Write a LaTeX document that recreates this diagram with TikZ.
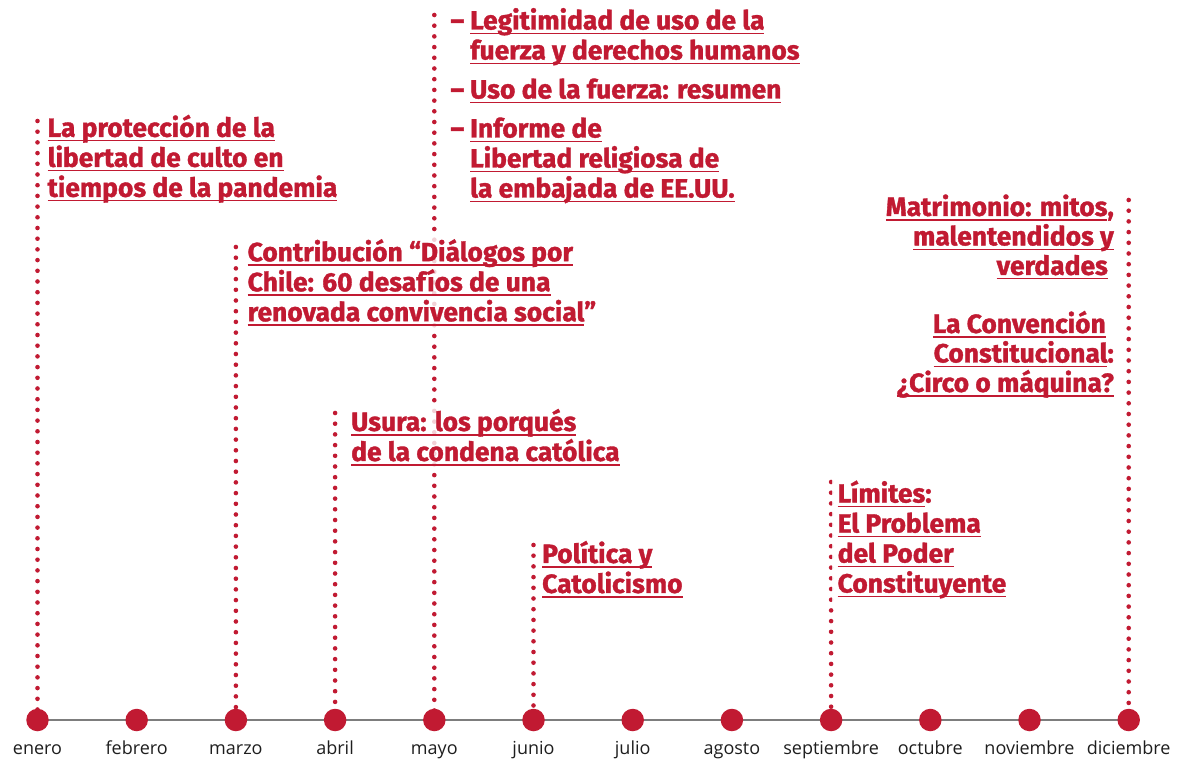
\documentclass[tikz,border=0pt]{standalone}
\usepackage{fontspec}
\setmainfont{Fira Sans}[BoldFeatures={FakeBold=1.3}]
\newfontfamily\monthfont{Open Sans}
\definecolor{tred}{RGB}{193,26,50}
\definecolor{tgray}{RGB}{125,125,125}
\definecolor{mtext}{RGB}{30,30,30}
\newcommand\myul[1]{\setbox0\hbox{#1}\rlap{\rule[-4.6pt]{\wd0}{1.4pt}}\box0}
\newcommand\myst{\rule{0pt}{22pt}}
\pgfdeclarelayer{bg}
\pgfsetlayers{bg,main}
\tikzset{
  ttl/.style={font=\fontsize{26.4}{30}\selectfont\bfseries, text=tred, align=left,
    inner sep=6pt, fill=white, fill opacity=0.8, text opacity=1, anchor=north west},
  ttr/.style={ttl, align=right, anchor=north east, font=\fontsize{26.4}{29.5}\selectfont\bfseries},
  mdot/.style={circle, fill=tred, minimum size=22.5pt, inner sep=0pt},
  mlab/.style={font=\monthfont\fontsize{18}{20}\selectfont, text=mtext, anchor=base, inner sep=0pt},
  dotl/.style={draw=tred, line width=4.6pt, line cap=round, dash pattern=on 0pt off 10.7pt},
  tline/.style={draw=tgray, line width=2.5pt}
}
\begin{document}
\begin{tikzpicture}[x=1pt,y=-1pt]
\useasboundingbox (0,0) rectangle (1188,759);
% months
\foreach \i/\m in {0/enero,1/febrero,2/marzo,3/abril,4/mayo,5/junio,6/julio,7/agosto,8/septiembre,9/octubre,10/noviembre,11/diciembre}{
  \node[mdot] (m\i) at ({37.5+99.2*\i},720) {};
  \node[mlab] (l\i) at ({37.5+99.2*\i},754.5) {\m};
}
% tops of dotted lines
\coordinate (t0) at (m0 |- 0,121);
\coordinate (t2) at (m2 |- 0,247);
\coordinate (t3) at (m3 |- 0,413);
\coordinate (t4) at (m4 |- 0,15);
\coordinate (t5) at (m5 |- 0,545);
\coordinate (t8) at (m8 |- 0,482);
\coordinate (t11) at (m11 |- 0,200);
% texts
\node[ttl] (ene) at (41.5,108.6) {\myst\myul{La protección de la}\\\myul{libertad de culto en}\\\myul{tiempos de la pandemia}};
\node[ttl] (mar) at (241.5,233) {\myst\myul{Contribución “Diálogos por}\\\myul{Chile: 60 desafíos de una}\\\myul{renovada convivencia social}”};
\node[ttl] (abr) at (345,402.7) {\myst\myul{Usura: los porqués}\\\myul{de la condena católica}};
\node[ttl] (may1) at (464,1.3) {\myst\llap{–\hspace{6pt}}\myul{Legitimidad de uso de la}\\\myul{fuerza y derechos humanos}};
\node[ttl] (may2) at (464,70.3) {\myst\llap{–\hspace{6pt}}\myul{Uso de la fuerza: resumen}};
\node[ttl] (may3) at (464,109.3) {\myst\llap{–\hspace{6pt}}\myul{Informe de}\\\myul{Libertad religiosa de}\\\myul{la embajada de EE.UU.}};
\node[ttl] (jun) at (536,534.7) {\myst\myul{Política y}\\\myul{Catolicismo}};
\node[ttl] (sep) at (831.5,474.3) {\myst\myul{Límites}:\\\myul{El Problema}\\\myul{del Poder}\\\myul{Constituyente}};
\node[ttr] (dic1) at (1120,187.7) {\myst\myul{Matrimonio: mitos},\\\myul{malentendidos y}\hspace*{6pt}\\\myul{verdades}\hspace*{6pt}};
\node[ttr] (dic2) at (1120,304.7) {\myst\myul{La Convención}\hspace*{8pt}\\\myul{Constitucional}:\\\myul{¿Circo o máquina?}};
% background lines
\begin{pgfonlayer}{bg}
  \draw[tline] (m0.center) -- (m11.center);
  \foreach \k in {0,2,3,4,5,8,11}{
    \draw[dotl] (t\k) -- (m\k.center);
  }
\end{pgfonlayer}
\end{tikzpicture}
\end{document}
